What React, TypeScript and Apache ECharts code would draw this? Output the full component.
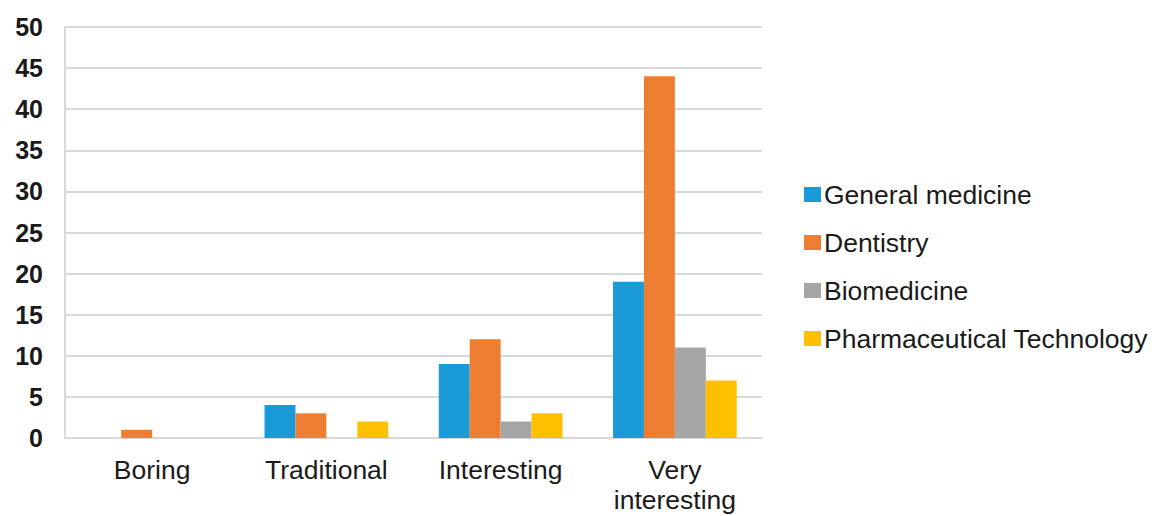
import React, { useEffect, useRef } from "react";
import * as echarts from "echarts";

const categories = ["Boring", "Traditional", "Interesting", "Very\ninteresting"];
const seriesNames = ["General medicine", "Dentistry", "Biomedicine", "Pharmaceutical Technology"];
const generalMedicine = [0, 4, 9, 19];
const dentistry = [1, 3, 12, 44];
const biomedicine = [0, 0, 2, 11];
const pharmTech = [0, 2, 3, 7];
const colors = ["#1a9bd7", "#ed7d31", "#a5a5a5", "#ffc000"];

export default function App() {
  const ref = useRef<HTMLDivElement>(null);
  useEffect(() => {
    if (!ref.current) return;
    const chart = echarts.init(ref.current, undefined, { renderer: "svg" });
    const values = [generalMedicine, dentistry, biomedicine, pharmTech];
    chart.setOption({
      animation: false,
      color: colors,
      textStyle: { fontFamily: "Liberation Sans, Arial, sans-serif" },
      grid: { left: 65, right: 410, top: 27, bottom: 78, containLabel: false },
      legend: {
        orient: "vertical",
        left: 799,
        top: 176,
        icon: "rect",
        itemWidth: 17,
        itemHeight: 15,
        itemGap: 21,
        textStyle: { fontSize: 26.5, color: "#1a1a1a", lineHeight: 26, padding: [0, 0, 0, -2] },
        data: seriesNames,
      },
      xAxis: {
        type: "category",
        data: categories,
        axisLine: { lineStyle: { color: "#d9d9d9", width: 2 } },
        axisTick: { show: false },
        axisLabel: { fontSize: 26.5, color: "#1a1a1a", margin: 17, lineHeight: 30, interval: 0 },
      },
      yAxis: {
        type: "value",
        min: 0,
        max: 50,
        interval: 5,
        axisLine: { show: true, lineStyle: { color: "#d9d9d9", width: 2 } },
        axisTick: { show: false },
        splitLine: { lineStyle: { color: "#d9d9d9", width: 2 } },
        axisLabel: { fontSize: 25, fontWeight: "bold", color: "#1a1a1a", margin: 22 },
      },
      series: seriesNames.map((name, i) => ({
        name,
        type: "bar",
        data: values[i],
        barGap: "0%",
        barCategoryGap: "29%",
        itemStyle: { color: colors[i] },
      })),
    });
    return () => chart.dispose();
  }, []);
  return (
    <div
      ref={ref}
      style={{ position: "absolute", left: 0, top: 0, width: 1172, height: 516, background: "#fff" }}
    />
  );
}
